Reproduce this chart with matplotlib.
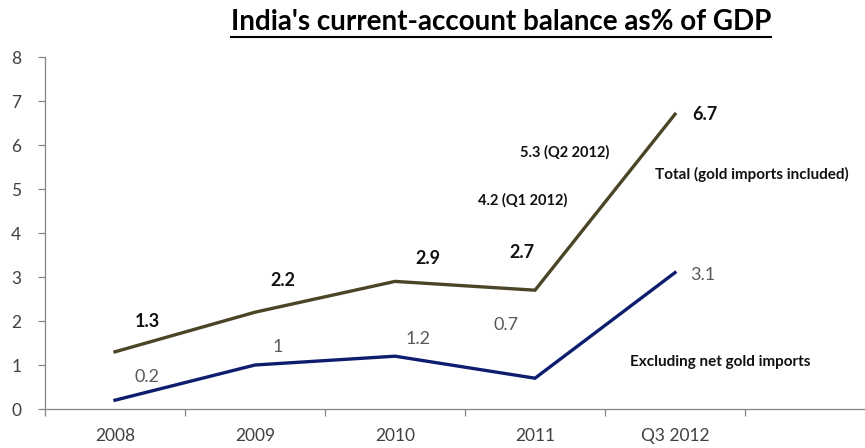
import matplotlib
matplotlib.use("Agg")
import matplotlib.pyplot as plt
from matplotlib.lines import Line2D

plt.rcParams['font.family'] = ['Lato', 'DejaVu Sans']

# data
categories = ['2008', '2009', '2010', '2011', 'Q3 2012', '']
total = [1.3, 2.2, 2.9, 2.7, 6.7]
excl_gold = [0.2, 1.0, 1.2, 0.7, 3.1]
total_labels = ['1.3', '2.2', '2.9', '2.7', '6.7']
excl_labels = ['0.2', '1', '1.2', '0.7', '3.1']

# label offsets in pixels (dx, dy) from each point
total_offsets = [(32, 30), (28, 32), (33, 23), (-13, 38), (30, 0)]
excl_offsets = [(32, 23), (23, 18), (23, 17), (-29, 53), (28, -2)]

OLIVE = '#4b4527'
NAVY = '#0f1d6e'
GRAY_TXT = '#404040'

fig = plt.figure(figsize=(8.65, 4.48), dpi=100)
ax = fig.add_axes([45 / 865, 1 - 409 / 448, 840 / 865, 352 / 448])

xs = list(range(len(total)))
ax.plot(xs, total, color=OLIVE, linewidth=2.4, solid_joinstyle='miter')
ax.plot(xs, excl_gold, color=NAVY, linewidth=2.4, solid_joinstyle='miter')

for x, y, lab, (dx, dy) in zip(xs, total, total_labels, total_offsets):
    ax.annotate(lab, (x, y), xytext=(dx, dy), textcoords='offset pixels',
                ha='center', va='center', fontsize=13, fontweight='bold', color='#111111')
for x, y, lab, (dx, dy) in zip(xs, excl_gold, excl_labels, excl_offsets):
    ax.annotate(lab, (x, y), xytext=(dx, dy), textcoords='offset pixels',
                ha='center', va='center', fontsize=13, color='#595959')

# side notes
ax.text(3.21, 5.84, '5.3 (Q2 2012)', ha='center', va='center', fontsize=10.5,
        fontweight='bold', color='#111111')
ax.text(2.91, 4.75, '4.2 (Q1 2012)', ha='center', va='center', fontsize=10.5,
        fontweight='bold', color='#111111')
ax.text(3.86, 5.32, 'Total (gold imports included)', ha='left', va='center', fontsize=11,
        fontweight='bold', color='#111111')
ax.text(3.68, 1.07, 'Excluding net gold imports', ha='left', va='center', fontsize=11,
        fontweight='bold', color='#111111')

ax.set_xlim(-0.5, len(categories) - 0.5)
ax.set_ylim(0, 8)
ax.set_yticks(range(0, 9))
ax.set_xticks(range(len(categories)))
ax.set_xticklabels(categories)
ax.set_xticks([i - 0.5 for i in range(len(categories) + 1)], minor=True)

for side in ['top', 'right']:
    ax.spines[side].set_visible(False)
for side in ['left', 'bottom']:
    ax.spines[side].set_color('#868686')
    ax.spines[side].set_linewidth(0.9)

ax.tick_params(axis='x', which='major', length=0, pad=14, labelsize=12.5, labelcolor=GRAY_TXT)
ax.tick_params(axis='x', which='minor', length=5, color='#868686', width=0.9)
ax.tick_params(axis='y', length=5, color='#868686', width=0.9, pad=12,
               labelsize=12.5, labelcolor=GRAY_TXT)

# underlined title
title = fig.text(501 / 865, 1 - 22 / 448, "India's current-account balance as% of GDP",
                 ha='center', va='center', fontsize=20, fontweight='bold', color='#000000')
fig.canvas.draw()
bb = title.get_window_extent().transformed(fig.transFigure.inverted())
uy = bb.y0 - 0.004
fig.add_artist(Line2D([bb.x0, bb.x1], [uy, uy], transform=fig.transFigure,
                      color='#000000', linewidth=1.5))

fig.savefig('out.png', dpi=100)
